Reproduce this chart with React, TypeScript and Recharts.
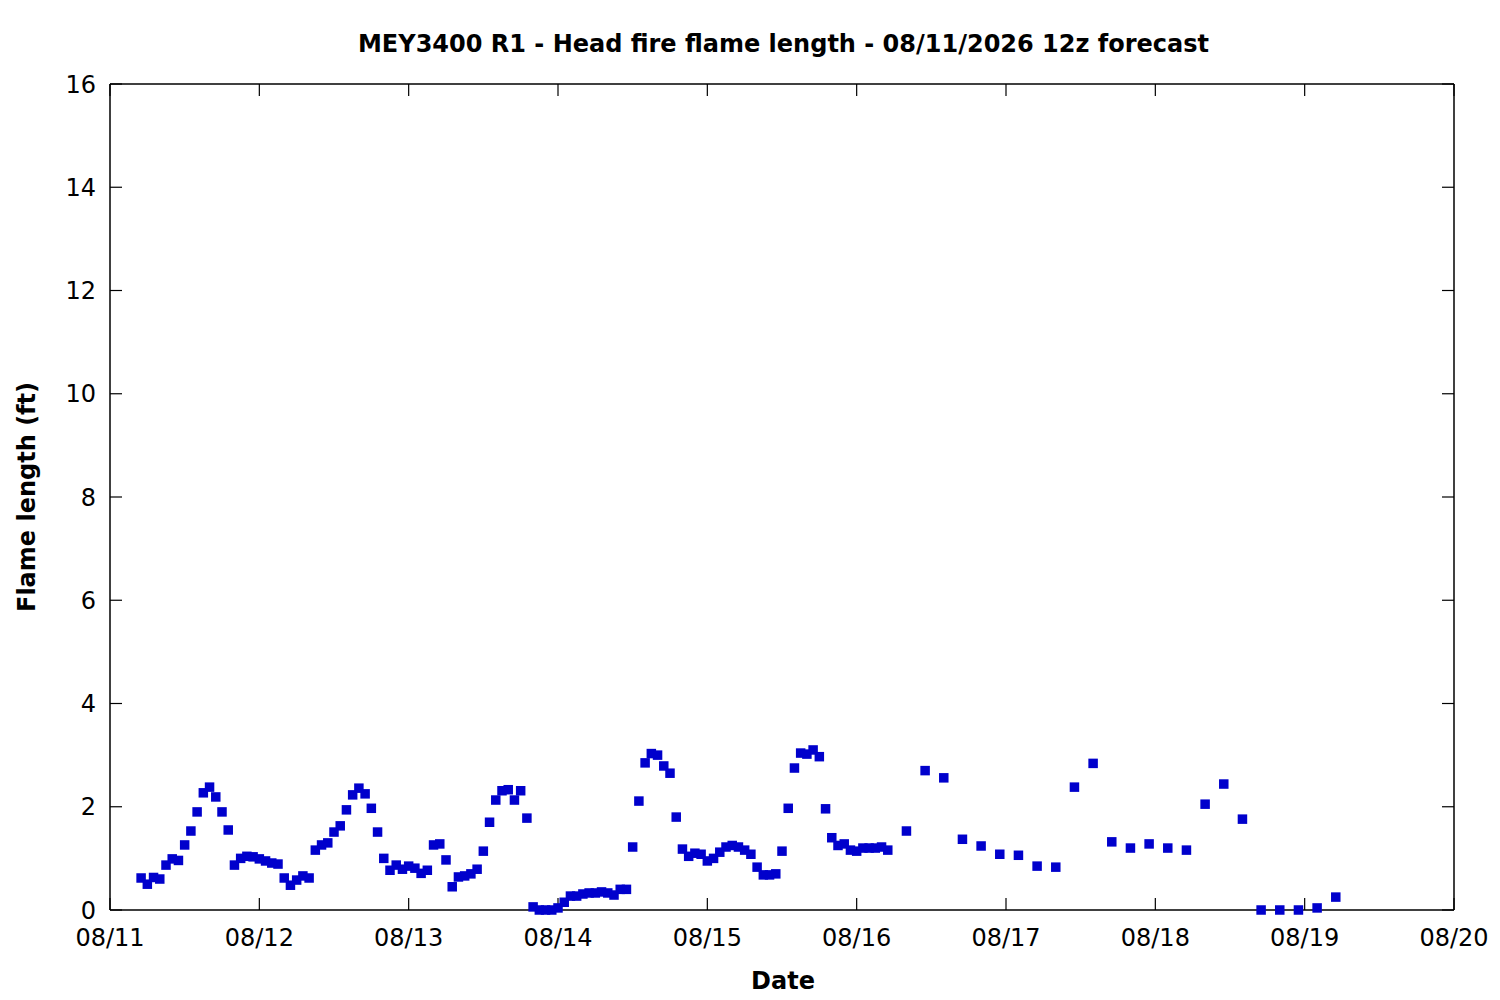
import React from "react";
import { ScatterChart, Scatter, XAxis, YAxis } from "recharts";

// Forecast start: 08/11 00z = hour 0
const dayLabels = ["08/11", "08/12", "08/13", "08/14", "08/15", "08/16", "08/17", "08/18", "08/19", "08/20"];
const yTicks = [0, 2, 4, 6, 8, 10, 12, 14, 16];

// Hourly values, first at 08/11 05z (hour 5)
const hourlyStart = 5;
const hourlyValues = [
  0.62, 0.5, 0.63, 0.6, 0.87, 0.99, 0.96, 1.26, 1.53, 1.9, 2.27, 2.38, 2.19, 1.9, 1.55, 0.87, 1.0, 1.04, 1.03, 0.99,
  0.95, 0.91, 0.89, 0.62, 0.48, 0.58, 0.66, 0.62, 1.16, 1.26, 1.3, 1.51, 1.63, 1.94, 2.23, 2.36, 2.25, 1.97, 1.51, 1.0,
  0.77, 0.87, 0.79, 0.85, 0.81, 0.71, 0.77, 1.26, 1.28, 0.97, 0.45, 0.64, 0.66, 0.7, 0.79, 1.14, 1.7, 2.13, 2.31, 2.33,
  2.13, 2.31, 1.78, 0.06, 0.0, 0.0, 0.0, 0.04, 0.15, 0.27, 0.27, 0.31, 0.33, 0.33, 0.35, 0.33, 0.29, 0.4, 0.4, 1.22,
  2.11, 2.85, 3.03, 3.0, 2.79, 2.65, 1.8, 1.18, 1.04, 1.1, 1.08, 0.95, 1.0, 1.12, 1.22, 1.25, 1.22, 1.16, 1.08, 0.83,
  0.68, 0.68, 0.7, 1.14, 1.97, 2.75, 3.04, 3.02, 3.1, 2.97, 1.96, 1.4, 1.25, 1.28, 1.16, 1.14, 1.2, 1.2, 1.2, 1.22,
  1.16,
];

// 3-hourly values, first at 08/16 08z (hour 128)
const threeHourlyStart = 128;
const threeHourlyValues = [
  1.53, 2.7, 2.56, 1.37, 1.24, 1.08, 1.06, 0.85, 0.83, 2.38, 2.84, 1.32, 1.2, 1.28, 1.2, 1.16, 2.05, 2.44, 1.76, 0.0,
  0.0, 0.0, 0.04, 0.25,
];

const data = [
  ...hourlyValues.map((v, i) => ({ h: hourlyStart + i, v })),
  ...threeHourlyValues.map((v, i) => ({ h: threeHourlyStart + i * 3, v })),
];

const xTicks = dayLabels.map((_, i) => i * 24);
const FONT = "DejaVu Sans";
const BLUE = "#0000cc";

const Square = (props: any) => {
  const { cx, cy } = props;
  if (cx == null || cy == null) return null;
  return <rect x={cx - 4.75} y={cy - 4.75} width={9.5} height={9.5} fill={BLUE} />;
};

const NoShape = () => <g />;
const EmptyTick = () => <g />;

const W = 1492;
const H = 992;

export default function App() {
  const tickStyle = { fontFamily: FONT, fontSize: 24, fill: "#000" };
  const tl = { stroke: "#000", strokeWidth: 1.2 };
  return (
    <div style={{ position: "relative", width: W, height: H, background: "#fff" }}>
      <ScatterChart width={W} height={H} margin={{ top: 76, right: 46, left: 0, bottom: 30 }}>
        <XAxis
          xAxisId="b"
          dataKey="h"
          type="number"
          domain={[0, 216]}
          ticks={xTicks}
          tickFormatter={(t: number) => dayLabels[Math.round(t / 24)]}
          height={60}
          tickSize={0}
          tickLine={false}
          tickMargin={19}
          axisLine={{ stroke: "#000", strokeWidth: 1.5 }}
          tick={tickStyle}
          interval={0}
        />
        <XAxis
          xAxisId="bt"
          dataKey="h"
          type="number"
          domain={[0, 216]}
          ticks={xTicks}
          allowDataOverflow
          mirror
          tickSize={12}
          tick={<EmptyTick />}
          axisLine={false}
          tickLine={tl}
          interval={0}
        />
        <XAxis
          xAxisId="t"
          dataKey="h"
          orientation="top"
          type="number"
          domain={[0, 216]}
          ticks={xTicks}
          allowDataOverflow
          mirror
          tickSize={12}
          tick={<EmptyTick />}
          axisLine={{ stroke: "#000", strokeWidth: 1.5 }}
          tickLine={tl}
          interval={0}
        />
        <YAxis
          yAxisId="l"
          dataKey="v"
          type="number"
          domain={[0, 16]}
          ticks={yTicks}
          width={102}
          tickSize={0}
          tickLine={false}
          tickMargin={14}
          axisLine={{ stroke: "#000", strokeWidth: 1.5 }}
          tick={tickStyle}
          interval={0}
        />
        <YAxis
          yAxisId="lt"
          dataKey="v"
          type="number"
          domain={[0, 16]}
          ticks={yTicks}
          allowDataOverflow
          mirror
          tickSize={12}
          tick={<EmptyTick />}
          axisLine={false}
          tickLine={tl}
          interval={0}
        />
        <YAxis
          yAxisId="r"
          dataKey="v"
          orientation="right"
          type="number"
          domain={[0, 16]}
          ticks={yTicks}
          allowDataOverflow
          mirror
          tickSize={12}
          tick={<EmptyTick />}
          axisLine={{ stroke: "#000", strokeWidth: 1.5 }}
          tickLine={tl}
          interval={0}
        />
        <Scatter data={data} xAxisId="bt" yAxisId="lt" dataKey="v" shape={NoShape} isAnimationActive={false} />
        <Scatter data={data} xAxisId="t" yAxisId="r" dataKey="v" shape={NoShape} isAnimationActive={false} />
        <Scatter
          data={data}
          xAxisId="b"
          yAxisId="l"
          dataKey="v"
          shape={Square}
          isAnimationActive={false}
        />
      </ScatterChart>
      <svg
        width={W}
        height={H}
        style={{ position: "absolute", left: 0, top: 0, pointerEvents: "none" }}
      >
        <text x={775.5} y={44} textAnchor="middle" fontFamily={FONT} fontWeight="bold" fontSize={24} fill="#000">
          MEY3400 R1 - Head fire flame length - 08/11/2026 12z forecast
        </text>
        <text x={775} y={980.5} textAnchor="middle" fontFamily={FONT} fontWeight="bold" fontSize={24} fill="#000">
          Date
        </text>
        <text
          x={0}
          y={0}
          transform="translate(27,489) rotate(-90)"
          textAnchor="middle"
          fontFamily={FONT}
          fontWeight="bold"
          fontSize={24}
          fill="#000"
        >
          Flame length (ft)
        </text>
      </svg>
    </div>
  );
}
